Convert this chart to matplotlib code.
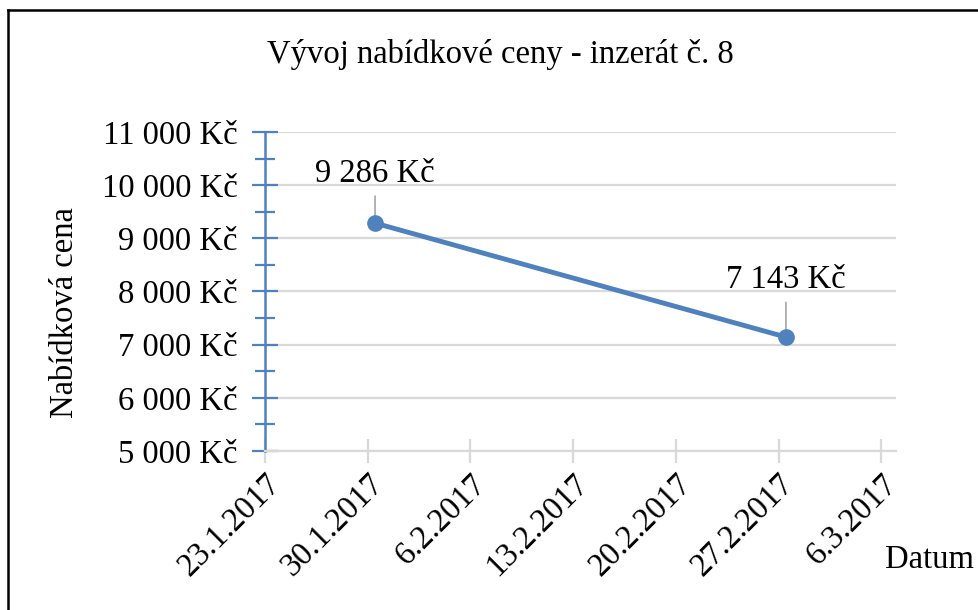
import matplotlib
matplotlib.use("Agg")
import matplotlib.pyplot as plt
import matplotlib.dates as mdates
from matplotlib.ticker import FuncFormatter, MultipleLocator
from matplotlib.lines import Line2D

# ---- data ----
dates = ["2017-01-30", "2017-02-27"]
prices = [9286, 7143]
title = "Vývoj nabídkové ceny - inzerát č. 8"
ylabel = "Nabídková cena"
xlabel = "Datum"
x_start = "2017-01-23"
x_end = "2017-03-07"
y_min, y_max = 5000, 11000

# ---- style ----
label_offsets_pt = [29.5, 35.0]
plt.rcParams['font.family'] = ['Liberation Serif', 'DejaVu Serif']
BLUE = "#4F81BD"
GRID = "#D9D9D9"
FS = 23.5

fig = plt.figure(figsize=(9.79, 6.10), dpi=100)
ax = fig.add_axes([265/979, 1-451/610, (896-265)/979, (451-132)/610])

# Excel date axis places points in the middle of the day slot
xd = [mdates.datestr2num(d) + 0.5 for d in dates]
ax.plot(xd, prices, color=BLUE, lw=3.5, marker='o', ms=11, solid_capstyle='round', zorder=5)

ax.set_xlim(mdates.datestr2num(x_start), mdates.datestr2num(x_end))
ax.set_ylim(y_min, y_max)

# y axis
ax.yaxis.set_major_locator(MultipleLocator(1000))
ax.yaxis.set_minor_locator(MultipleLocator(500))
ax.yaxis.set_major_formatter(FuncFormatter(lambda v, p: f"{int(v):,} Kč".replace(",", " ")))
ax.tick_params(axis='y', which='major', direction='inout', length=19, width=1.6, color=BLUE,
               labelsize=FS, pad=10)
ax.tick_params(axis='y', which='minor', direction='inout', length=14, width=1.6, color=BLUE)

# x axis (weekly ticks)
ticks = [mdates.datestr2num(x_start) + 7 * i for i in range(7)]
ax.set_xticks(ticks)
ax.xaxis.set_major_formatter(FuncFormatter(
    lambda v, p: (lambda d: f"{d.day}.{d.month}.{d.year}")(mdates.num2date(v))))
ax.tick_params(axis='x', which='major', direction='inout', length=17, width=1.6, color=GRID,
               labelsize=FS, pad=4)
for lab in ax.get_xticklabels():
    lab.set_rotation(45)
    lab.set_ha('right')
    lab.set_va('top')
    lab.set_rotation_mode('anchor')

ax.grid(axis='y', color=GRID, lw=1.6)
ax.set_axisbelow(True)
for s in ['top', 'right']:
    ax.spines[s].set_visible(False)
ax.spines['left'].set_color(BLUE)
ax.spines['left'].set_linewidth(1.8)
ax.spines['bottom'].set_color(GRID)
ax.spines['bottom'].set_linewidth(1.6)

# data labels with leader lines
for x, y, off in zip(xd, prices, label_offsets_pt):
    ax.annotate(f"{y:,} Kč".replace(",", " "), xy=(x, y), xytext=(0, off),
                textcoords='offset points', ha='center', va='baseline', fontsize=FS,
                arrowprops=dict(arrowstyle='-', color='#A6A6A6', lw=1.2,
                                shrinkA=3, shrinkB=4))

fig.text(500/979, 1-54/610, title, ha='center', va='center', fontsize=FS)
fig.text(65/979, 1-313/610, ylabel, ha='center', va='center', rotation=90, fontsize=FS)
fig.text(930/979, 1-560/610, xlabel, ha='center', va='center', fontsize=FS)

# outer frame (open at right/bottom)
fig.add_artist(Line2D([8/979, 8/979], [0, 1-10/610], color='black', lw=1.8, transform=fig.transFigure))
fig.add_artist(Line2D([8/979, 1], [1-10/610, 1-10/610], color='black', lw=1.8, transform=fig.transFigure))

fig.savefig("out.png", dpi=100)
